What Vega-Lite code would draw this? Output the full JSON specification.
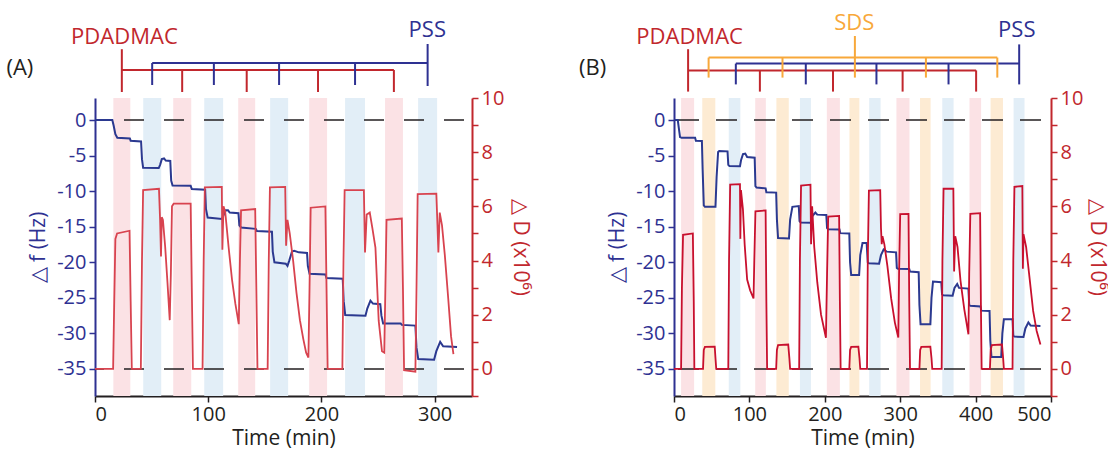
{
  "$schema": "https://vega.github.io/schema/vega-lite/v6.json",
  "background": "white",
  "padding": {"left": 6, "top": 12, "right": 0, "bottom": 0},
  "config": {
    "view": {"stroke": null},
    "font": "Open Sans",
    "axis": {"grid": false, "labelFontSize": 20, "titleFontSize": 21, "titleFontWeight": "normal", "tickSize": 6, "tickWidth": 1.5, "domainWidth": 2, "labelPadding": 3}
  },
  "datasets": {
    "baselines": [{"hz": 0}, {"hz": -35}],
    "bandsA": [
      {"t": 16.2, "t2": 31.2, "solution": "PDADMAC"}, {"t": 69.1, "t2": 85, "solution": "PDADMAC"}, {"t": 126.5, "t2": 141.5, "solution": "PDADMAC"}, {"t": 189.2, "t2": 205, "solution": "PDADMAC"}, {"t": 256.2, "t2": 272, "solution": "PDADMAC"},
      {"t": 42.6, "t2": 58.5, "solution": "PSS"}, {"t": 96.5, "t2": 113.2, "solution": "PSS"}, {"t": 154.7, "t2": 170.6, "solution": "PSS"}, {"t": 220.9, "t2": 238.5, "solution": "PSS"}, {"t": 285.4, "t2": 302.2, "solution": "PSS"}
    ],
    "bandsB": [
      {"t": 9.4, "t2": 26.7, "solution": "PDADMAC"}, {"t": 107.7, "t2": 121.8, "solution": "PDADMAC"}, {"t": 202.7, "t2": 220, "solution": "PDADMAC"}, {"t": 295, "t2": 312.3, "solution": "PDADMAC"}, {"t": 391.9, "t2": 407.3, "solution": "PDADMAC"},
      {"t": 37.5, "t2": 54.8, "solution": "SDS"}, {"t": 135.8, "t2": 152.2, "solution": "SDS"}, {"t": 232.7, "t2": 245.8, "solution": "SDS"}, {"t": 326.3, "t2": 340.3, "solution": "SDS"}, {"t": 419.9, "t2": 436.3, "solution": "SDS"},
      {"t": 72.6, "t2": 88, "solution": "PSS"}, {"t": 167, "t2": 181.6, "solution": "PSS"}, {"t": 258.9, "t2": 274, "solution": "PSS"}, {"t": 355.8, "t2": 370.8, "solution": "PSS"}, {"t": 450.4, "t2": 464.9, "solution": "PSS"}
    ],
    "freqA": [
      {"t": 0, "hz": 0}, {"t": 15.3, "hz": 0}, {"t": 16.5, "hz": -0.8}, {"t": 18, "hz": -2.0}, {"t": 19.7, "hz": -2.5}, {"t": 30.8, "hz": -2.6}, {"t": 31.5, "hz": -2.9}, {"t": 40.7, "hz": -3.0},
      {"t": 41.5, "hz": -5.5}, {"t": 42.5, "hz": -6.7}, {"t": 56.3, "hz": -6.75}, {"t": 57.5, "hz": -6.3}, {"t": 59, "hz": -5.5}, {"t": 61, "hz": -5.4}, {"t": 62.5, "hz": -5.7}, {"t": 66.5, "hz": -5.75},
      {"t": 67.3, "hz": -8.5}, {"t": 68.5, "hz": -9.2}, {"t": 84.5, "hz": -9.25}, {"t": 85.5, "hz": -9.7}, {"t": 97.3, "hz": -9.8}, {"t": 98, "hz": -12.5}, {"t": 99.5, "hz": -13.7}, {"t": 112, "hz": -13.9},
      {"t": 113.5, "hz": -13.4}, {"t": 115.5, "hz": -12.7}, {"t": 117.5, "hz": -12.7}, {"t": 119, "hz": -13.0}, {"t": 126.7, "hz": -13.1}, {"t": 127.5, "hz": -14.8}, {"t": 129, "hz": -15.1}, {"t": 142, "hz": -15.3},
      {"t": 143, "hz": -15.6}, {"t": 156.3, "hz": -15.7}, {"t": 157, "hz": -18.5}, {"t": 158.5, "hz": -20.0}, {"t": 168.5, "hz": -20.2}, {"t": 170, "hz": -20.5}, {"t": 171.5, "hz": -19.8}, {"t": 174, "hz": -18.5},
      {"t": 176, "hz": -18.4}, {"t": 180, "hz": -18.6}, {"t": 187.3, "hz": -18.7}, {"t": 188, "hz": -20.5}, {"t": 189.5, "hz": -21.6}, {"t": 203.5, "hz": -21.7}, {"t": 204.5, "hz": -22.2}, {"t": 218.8, "hz": -22.3},
      {"t": 219.7, "hz": -25.5}, {"t": 221, "hz": -27.4}, {"t": 238.9, "hz": -27.5}, {"t": 240.5, "hz": -26.5}, {"t": 243.3, "hz": -25.4}, {"t": 245.5, "hz": -25.8}, {"t": 252, "hz": -25.9}, {"t": 253, "hz": -27.5},
      {"t": 254.5, "hz": -28.6}, {"t": 270, "hz": -28.6}, {"t": 271, "hz": -28.8}, {"t": 283, "hz": -28.9}, {"t": 284, "hz": -32}, {"t": 285.5, "hz": -33.6}, {"t": 299.5, "hz": -33.7}, {"t": 301.5, "hz": -32.5},
      {"t": 304.9, "hz": -31.2}, {"t": 307.5, "hz": -31.8}, {"t": 319.8, "hz": -31.9}
    ],
    "dissA": [
      {"t": 0, "d": 0}, {"t": 16, "d": 0}, {"t": 17, "d": 2.5}, {"t": 18, "d": 4.8}, {"t": 19.5, "d": 5.0}, {"t": 30.5, "d": 5.1}, {"t": 31.5, "d": 2.5}, {"t": 32.5, "d": 0}, {"t": 40.5, "d": 0},
      {"t": 41.5, "d": 4}, {"t": 42.5, "d": 6.6}, {"t": 56.5, "d": 6.65}, {"t": 57.5, "d": 5.5}, {"t": 58.3, "d": 4.15}, {"t": 59, "d": 5.6}, {"t": 60, "d": 5.5}, {"t": 62, "d": 4.5}, {"t": 64, "d": 3.2},
      {"t": 66, "d": 1.8}, {"t": 67, "d": 3.5}, {"t": 68, "d": 6.0}, {"t": 69.5, "d": 6.1}, {"t": 84.5, "d": 6.1}, {"t": 85.5, "d": 3}, {"t": 86.5, "d": 0}, {"t": 95, "d": 0}, {"t": 96, "d": 4},
      {"t": 97, "d": 6.7}, {"t": 112, "d": 6.72}, {"t": 112.5, "d": 4.4}, {"t": 113.5, "d": 6.0}, {"t": 115, "d": 5.8}, {"t": 118, "d": 4.5}, {"t": 121, "d": 3.3}, {"t": 124, "d": 2.4}, {"t": 127, "d": 1.65},
      {"t": 128, "d": 4}, {"t": 129, "d": 5.85}, {"t": 141.5, "d": 5.9}, {"t": 142.5, "d": 3}, {"t": 143.5, "d": 0}, {"t": 152.5, "d": 0}, {"t": 153.5, "d": 4}, {"t": 154.5, "d": 6.7}, {"t": 168, "d": 6.72},
      {"t": 168.8, "d": 4.55}, {"t": 170, "d": 5.5}, {"t": 172, "d": 5.0}, {"t": 175, "d": 4.0}, {"t": 178, "d": 2.8}, {"t": 181, "d": 1.8}, {"t": 184, "d": 1.1}, {"t": 186.5, "d": 0.6}, {"t": 188.5, "d": 0.42},
      {"t": 189.5, "d": 3}, {"t": 190.5, "d": 5.95}, {"t": 203.5, "d": 6.0}, {"t": 204.5, "d": 3}, {"t": 205.5, "d": 0}, {"t": 218.5, "d": 0}, {"t": 219.5, "d": 4}, {"t": 220.5, "d": 6.6}, {"t": 237.5, "d": 6.6},
      {"t": 238.5, "d": 4.3}, {"t": 240, "d": 5.7}, {"t": 242.7, "d": 5.77}, {"t": 245, "d": 5.2}, {"t": 247.7, "d": 4.48}, {"t": 250.6, "d": 1.77}, {"t": 253.5, "d": 0.65}, {"t": 255.5, "d": 0.6},
      {"t": 256.5, "d": 3}, {"t": 257.5, "d": 5.5}, {"t": 271, "d": 5.55}, {"t": 272, "d": 3}, {"t": 273, "d": -0.05}, {"t": 283, "d": -0.1}, {"t": 284, "d": 3}, {"t": 285, "d": 6.45}, {"t": 301.5, "d": 6.47},
      {"t": 302.5, "d": 5.3}, {"t": 303.3, "d": 4.3}, {"t": 304.5, "d": 5.77}, {"t": 306.5, "d": 5.3}, {"t": 309, "d": 4.2}, {"t": 312, "d": 2.6}, {"t": 314.5, "d": 1.2}, {"t": 316.6, "d": 0.55}
    ],
    "freqB": [
      {"t": 0, "hz": 0}, {"t": 5, "hz": 0}, {"t": 6.5, "hz": -1.2}, {"t": 8, "hz": -2.4}, {"t": 10, "hz": -2.5}, {"t": 28, "hz": -2.5}, {"t": 29, "hz": -2.9}, {"t": 37, "hz": -2.95},
      {"t": 38, "hz": -7}, {"t": 39.5, "hz": -12.0}, {"t": 41, "hz": -12.2}, {"t": 55, "hz": -12.2}, {"t": 56.5, "hz": -8}, {"t": 58.5, "hz": -4.5}, {"t": 60, "hz": -4.35}, {"t": 71, "hz": -4.4},
      {"t": 72, "hz": -6.3}, {"t": 73.5, "hz": -6.45}, {"t": 87.5, "hz": -6.5}, {"t": 89, "hz": -5.6}, {"t": 91.5, "hz": -4.8}, {"t": 94.5, "hz": -4.72}, {"t": 97, "hz": -5.2}, {"t": 107, "hz": -5.3},
      {"t": 108, "hz": -9.3}, {"t": 109.5, "hz": -9.5}, {"t": 121.5, "hz": -9.6}, {"t": 122.5, "hz": -10.15}, {"t": 135.5, "hz": -10.2}, {"t": 136.5, "hz": -14}, {"t": 138, "hz": -16.6}, {"t": 152.5, "hz": -16.65},
      {"t": 154, "hz": -14}, {"t": 157, "hz": -12.2}, {"t": 165.5, "hz": -12.1}, {"t": 166.5, "hz": -14.2}, {"t": 168, "hz": -14.4}, {"t": 181.5, "hz": -14.45}, {"t": 183.5, "hz": -13.5}, {"t": 187.5, "hz": -13.0},
      {"t": 190, "hz": -13.3}, {"t": 202, "hz": -13.35}, {"t": 203, "hz": -15.2}, {"t": 204.5, "hz": -15.35}, {"t": 219.5, "hz": -15.4}, {"t": 220.5, "hz": -15.9}, {"t": 232.5, "hz": -15.95}, {"t": 233.5, "hz": -20},
      {"t": 235, "hz": -21.8}, {"t": 245.5, "hz": -21.8}, {"t": 247, "hz": -19}, {"t": 250, "hz": -17.3}, {"t": 255.5, "hz": -17.3}, {"t": 257, "hz": -20}, {"t": 258.5, "hz": -20.15}, {"t": 272, "hz": -20.2},
      {"t": 274.5, "hz": -19}, {"t": 278, "hz": -18.2}, {"t": 282, "hz": -18.5}, {"t": 294.5, "hz": -18.6}, {"t": 295.5, "hz": -20.8}, {"t": 297, "hz": -20.9}, {"t": 312, "hz": -20.95}, {"t": 313, "hz": -21.3},
      {"t": 324.5, "hz": -21.4}, {"t": 325.5, "hz": -26}, {"t": 327, "hz": -28.7}, {"t": 340, "hz": -28.7}, {"t": 341.5, "hz": -25}, {"t": 343.5, "hz": -22.7}, {"t": 354.5, "hz": -22.8}, {"t": 355.5, "hz": -24.5},
      {"t": 357, "hz": -24.65}, {"t": 369.5, "hz": -24.7}, {"t": 372, "hz": -23.6}, {"t": 375.6, "hz": -23.05}, {"t": 378, "hz": -23.6}, {"t": 390.5, "hz": -23.7}, {"t": 391.5, "hz": -26}, {"t": 393, "hz": -26.1},
      {"t": 406.5, "hz": -26.2}, {"t": 407.5, "hz": -26.8}, {"t": 418.5, "hz": -26.85}, {"t": 419.5, "hz": -31}, {"t": 421, "hz": -33.3}, {"t": 434, "hz": -33.3}, {"t": 435.5, "hz": -30}, {"t": 437.5, "hz": -28},
      {"t": 449, "hz": -28.0}, {"t": 450, "hz": -30.3}, {"t": 451.5, "hz": -30.45}, {"t": 463.5, "hz": -30.5}, {"t": 466, "hz": -29.3}, {"t": 470, "hz": -28.45}, {"t": 473, "hz": -28.9}, {"t": 486, "hz": -28.95}
    ],
    "dissB": [
      {"t": 0, "d": 0}, {"t": 9.4, "d": 0}, {"t": 10.5, "d": 3}, {"t": 12, "d": 4.95}, {"t": 25, "d": 5.0}, {"t": 26.2, "d": 2.5}, {"t": 27, "d": 0}, {"t": 38.5, "d": 0}, {"t": 39.5, "d": 0.7},
      {"t": 41, "d": 0.81}, {"t": 54, "d": 0.82}, {"t": 55, "d": 0.4}, {"t": 56, "d": 0}, {"t": 72, "d": 0}, {"t": 73, "d": 4}, {"t": 74.5, "d": 6.8}, {"t": 87.5, "d": 6.82}, {"t": 88, "d": 4.8},
      {"t": 88.8, "d": 6.6}, {"t": 91.4, "d": 5.9}, {"t": 93.7, "d": 4.6}, {"t": 97, "d": 3.3}, {"t": 101, "d": 2.9}, {"t": 105.5, "d": 2.6}, {"t": 106.5, "d": 4}, {"t": 108, "d": 5.82}, {"t": 121.5, "d": 5.85},
      {"t": 122.5, "d": 2.5}, {"t": 123.5, "d": 0}, {"t": 135.5, "d": 0}, {"t": 136.5, "d": 0.7}, {"t": 138, "d": 0.88}, {"t": 151.5, "d": 0.9}, {"t": 153, "d": 0.4}, {"t": 154, "d": 0}, {"t": 166, "d": 0},
      {"t": 167, "d": 4}, {"t": 168.5, "d": 6.77}, {"t": 181, "d": 6.8}, {"t": 181.8, "d": 4.6}, {"t": 183.2, "d": 6.0}, {"t": 186, "d": 4.5}, {"t": 190, "d": 3.2}, {"t": 195, "d": 2.0}, {"t": 201.5, "d": 1.15},
      {"t": 203, "d": 3.5}, {"t": 204.5, "d": 5.62}, {"t": 219, "d": 5.65}, {"t": 220, "d": 2.5}, {"t": 221, "d": 0}, {"t": 232.5, "d": 0}, {"t": 233.5, "d": 0.7}, {"t": 235, "d": 0.81}, {"t": 244.5, "d": 0.82},
      {"t": 246, "d": 0.4}, {"t": 247, "d": 0}, {"t": 256, "d": 0}, {"t": 257, "d": 4}, {"t": 258.5, "d": 6.58}, {"t": 273.5, "d": 6.6}, {"t": 274.5, "d": 5.2}, {"t": 275.5, "d": 4.6}, {"t": 276.5, "d": 4.9},
      {"t": 279, "d": 4.6}, {"t": 283, "d": 3.8}, {"t": 288, "d": 2.6}, {"t": 293, "d": 1.7}, {"t": 297.5, "d": 1.16}, {"t": 298.5, "d": 3.5}, {"t": 300, "d": 5.71}, {"t": 311, "d": 5.72}, {"t": 312, "d": 2.5},
      {"t": 313, "d": 0}, {"t": 325.5, "d": 0}, {"t": 326.5, "d": 0.7}, {"t": 328, "d": 0.81}, {"t": 340, "d": 0.82}, {"t": 341.5, "d": 0.4}, {"t": 342.5, "d": 0}, {"t": 355, "d": 0}, {"t": 356, "d": 4},
      {"t": 357.5, "d": 6.65}, {"t": 370.5, "d": 6.65}, {"t": 371.5, "d": 3.6}, {"t": 373, "d": 4.9}, {"t": 376, "d": 4.5}, {"t": 380, "d": 3.25}, {"t": 385, "d": 2.2}, {"t": 390.5, "d": 1.28}, {"t": 391.5, "d": 3.5},
      {"t": 393, "d": 5.72}, {"t": 406, "d": 5.75}, {"t": 407, "d": 2.5}, {"t": 408, "d": 0}, {"t": 419, "d": 0}, {"t": 420, "d": 0.7}, {"t": 421.5, "d": 0.88}, {"t": 435, "d": 0.9}, {"t": 436.5, "d": 0.4},
      {"t": 437.5, "d": 0}, {"t": 449, "d": 0}, {"t": 450, "d": 4}, {"t": 451.5, "d": 6.72}, {"t": 462, "d": 6.75}, {"t": 462.7, "d": 3.7}, {"t": 463.5, "d": 4.97}, {"t": 467, "d": 4.5}, {"t": 471, "d": 3.5},
      {"t": 476.3, "d": 2.14}, {"t": 481, "d": 1.4}, {"t": 486, "d": 0.9}
    ],
    "bracketA": [
      {"t": 23.7, "t2": 23.7, "l": 1.5, "l2": 12.2, "solution": "PDADMAC"},
      {"t": 23.7, "t2": 264, "l": 7, "l2": 7, "solution": "PDADMAC"},
      {"t": 77, "t2": 77, "l": 7, "l2": 1.5, "solution": "PDADMAC"},
      {"t": 134, "t2": 134, "l": 7, "l2": 1.5, "solution": "PDADMAC"},
      {"t": 197, "t2": 197, "l": 7, "l2": 1.5, "solution": "PDADMAC"},
      {"t": 264, "t2": 264, "l": 7, "l2": 1.5, "solution": "PDADMAC"},
      {"t": 50.5, "t2": 293.8, "l": 8.75, "l2": 8.75, "solution": "PSS"},
      {"t": 50.5, "t2": 50.5, "l": 8.75, "l2": 3.25, "solution": "PSS"},
      {"t": 105, "t2": 105, "l": 8.75, "l2": 3.25, "solution": "PSS"},
      {"t": 162.6, "t2": 162.6, "l": 8.75, "l2": 3.25, "solution": "PSS"},
      {"t": 229.7, "t2": 229.7, "l": 8.75, "l2": 3.25, "solution": "PSS"},
      {"t": 293.8, "t2": 293.8, "l": 3, "l2": 13.5, "solution": "PSS"}
    ],
    "bracketB": [
      {"t": 18.7, "t2": 18.7, "l": 1.6, "l2": 12.2, "solution": "PDADMAC"},
      {"t": 18.7, "t2": 400.7, "l": 6.9, "l2": 6.9, "solution": "PDADMAC"},
      {"t": 113.9, "t2": 113.9, "l": 6.9, "l2": 1.6, "solution": "PDADMAC"},
      {"t": 210.9, "t2": 210.9, "l": 6.9, "l2": 1.6, "solution": "PDADMAC"},
      {"t": 303.2, "t2": 303.2, "l": 6.9, "l2": 1.6, "solution": "PDADMAC"},
      {"t": 400.7, "t2": 400.7, "l": 6.9, "l2": 1.6, "solution": "PDADMAC"},
      {"t": 82, "t2": 457.8, "l": 8.6, "l2": 8.6, "solution": "PSS"},
      {"t": 82, "t2": 82, "l": 8.6, "l2": 3.4, "solution": "PSS"},
      {"t": 174.8, "t2": 174.8, "l": 8.6, "l2": 3.4, "solution": "PSS"},
      {"t": 268.5, "t2": 268.5, "l": 8.6, "l2": 3.4, "solution": "PSS"},
      {"t": 364.1, "t2": 364.1, "l": 8.6, "l2": 3.4, "solution": "PSS"},
      {"t": 457.8, "t2": 457.8, "l": 3.4, "l2": 13.4, "solution": "PSS"},
      {"t": 45.9, "t2": 428.8, "l": 10.1, "l2": 10.1, "solution": "SDS"},
      {"t": 45.9, "t2": 45.9, "l": 10.1, "l2": 5.1, "solution": "SDS"},
      {"t": 143.9, "t2": 143.9, "l": 10.1, "l2": 5.1, "solution": "SDS"},
      {"t": 239.9, "t2": 239.9, "l": 15.5, "l2": 5.1, "solution": "SDS"},
      {"t": 334.1, "t2": 334.1, "l": 10.1, "l2": 5.1, "solution": "SDS"},
      {"t": 428.8, "t2": 428.8, "l": 10.1, "l2": 5.1, "solution": "SDS"}
    ],
    "labelsA": [
      {"t": 26, "l": 13.5, "label": "PDADMAC", "solution": "PDADMAC"},
      {"t": 293.5, "l": 15.25, "label": "PSS", "solution": "PSS"},
      {"t": -66.4, "l": 5.75, "label": "(A)", "solution": "panel"}
    ],
    "labelsB": [
      {"t": 20.7, "l": 13.5, "label": "PDADMAC", "solution": "PDADMAC"},
      {"t": 239, "l": 16.9, "label": "SDS", "solution": "SDS"},
      {"t": 454.6, "l": 15.25, "label": "PSS", "solution": "PSS"},
      {"t": -108, "l": 5.75, "label": "(B)", "solution": "panel"}
    ]
  },
  "spacing": 47,
  "hconcat": [
    {
      "width": 377,
      "height": 298,
      "resolve": {"scale": {"y": "independent", "color": "independent"}},
      "layer": [
        {
          "data": {"name": "bandsA"},
          "mark": {"type": "rect"},
          "encoding": {
            "x": {"field": "t", "type": "quantitative", "scale": {"domain": [0, 333], "nice": false}, "axis": {"orient": "bottom", "values": [0, 100, 200, 300], "title": "Time (min)", "labelPadding": 2, "titlePadding": 3, "domainColor": "#231f20", "tickColor": "#231f20", "labelColor": "#231f20", "titleColor": "#231f20"}},
            "x2": {"field": "t2"},
            "color": {"field": "solution", "type": "nominal", "scale": {"domain": ["PDADMAC", "PSS", "SDS"], "range": ["#fbe2e5", "#e2eef7", "#fdebd3"]}, "legend": null}
          }
        },
        {
          "layer": [
            {
              "data": {"name": "baselines"},
              "mark": {"type": "rule", "strokeDash": [20, 20], "strokeDashOffset": 32, "color": "#231f20", "strokeWidth": 1.5},
              "encoding": {
                "y": {"field": "hz", "type": "quantitative", "scale": {"domain": [-38.8, 3.1], "nice": false, "zero": false},
                  "axis": {"orient": "left", "values": [-35, -30, -25, -20, -15, -10, -5, 0], "labelExpr": "toString(datum.value)", "title": "△ f (Hz)", "domainColor": "#2e3192", "tickColor": "#2e3192", "labelColor": "#2e3192", "titleColor": "#2e3192", "titlePadding": 8}}
              }
            },
            {
              "mark": {"type": "rule", "color": "#231f20", "strokeWidth": 2},
              "encoding": {"y": {"datum": 3.1}}
            },
            {
              "data": {"name": "freqA"},
              "mark": {"type": "line", "color": "#2b3990", "strokeWidth": 2},
              "encoding": {
                "x": {"field": "t", "type": "quantitative", "scale": {"domain": [0, 333], "nice": false}},
                "y": {"field": "hz", "type": "quantitative"}
              }
            }
          ]
        },
        {
          "data": {"name": "dissA"},
          "mark": {"type": "line", "color": "#d8434f", "strokeWidth": 1.8},
          "encoding": {
            "x": {"field": "t", "type": "quantitative", "scale": {"domain": [0, 333], "nice": false}},
            "y": {"field": "d", "type": "quantitative", "scale": {"domain": [-1, 10], "nice": false, "zero": false},
              "axis": {"orient": "right", "values": [-1, 0, 1, 2, 3, 4, 5, 6, 7, 8, 9, 10], "labelExpr": "datum.value >= 0 && datum.value % 2 === 0 ? toString(datum.value) : ''", "title": "△ D (x10⁶)", "domainColor": "#c1272d", "tickColor": "#c1272d", "labelColor": "#c1272d", "titleColor": "#c1272d", "titlePadding": 6}}
          }
        },
        {
          "data": {"name": "bracketA"},
          "mark": {"type": "rule", "strokeWidth": 2},
          "encoding": {
            "x": {"field": "t", "type": "quantitative", "scale": {"domain": [0, 333], "nice": false}},
            "x2": {"field": "t2"},
            "y": {"field": "l", "type": "quantitative", "scale": {"domain": [-74.5, 0], "nice": false, "zero": false}, "axis": null},
            "y2": {"field": "l2"},
            "color": {"field": "solution", "type": "nominal", "scale": {"domain": ["PDADMAC", "PSS", "SDS", "panel"], "range": ["#c1272d", "#2e3192", "#f8a83a", "#231f20"]}, "legend": null}
          }
        },
        {
          "data": {"name": "labelsA"},
          "mark": {"type": "text", "fontSize": 22, "baseline": "alphabetic", "align": "center"},
          "encoding": {
            "x": {"field": "t", "type": "quantitative", "scale": {"domain": [0, 333], "nice": false}},
            "y": {"field": "l", "type": "quantitative", "scale": {"domain": [-74.5, 0], "nice": false, "zero": false}, "axis": null},
            "text": {"field": "label"},
            "color": {"field": "solution", "type": "nominal", "scale": {"domain": ["PDADMAC", "PSS", "SDS", "panel"], "range": ["#c1272d", "#2e3192", "#f8a83a", "#231f20"]}, "legend": null}
          }
        }
      ]
    },
    {
      "width": 377,
      "height": 298,
      "resolve": {"scale": {"y": "independent", "color": "independent"}},
      "layer": [
        {
          "data": {"name": "bandsB"},
          "mark": {"type": "rect"},
          "encoding": {
            "x": {"field": "t", "type": "quantitative", "scale": {"domain": [0, 500], "nice": false}, "axis": {"orient": "bottom", "values": [0, 100, 200, 300, 400, 500], "title": "Time (min)", "labelPadding": 2, "titlePadding": 3, "domainColor": "#231f20", "tickColor": "#231f20", "labelColor": "#231f20", "titleColor": "#231f20"}},
            "x2": {"field": "t2"},
            "color": {"field": "solution", "type": "nominal", "scale": {"domain": ["PDADMAC", "PSS", "SDS"], "range": ["#fbe2e5", "#e2eef7", "#fdebd3"]}, "legend": null}
          }
        },
        {
          "layer": [
            {
              "data": {"name": "baselines"},
              "mark": {"type": "rule", "strokeDash": [21, 17], "strokeDashOffset": 28, "color": "#231f20", "strokeWidth": 1.5},
              "encoding": {
                "y": {"field": "hz", "type": "quantitative", "scale": {"domain": [-38.8, 3.1], "nice": false, "zero": false},
                  "axis": {"orient": "left", "values": [-35, -30, -25, -20, -15, -10, -5, 0], "labelExpr": "toString(datum.value)", "title": "△ f (Hz)", "domainColor": "#2e3192", "tickColor": "#2e3192", "labelColor": "#2e3192", "titleColor": "#2e3192", "titlePadding": 8}}
              }
            },
            {
              "mark": {"type": "rule", "color": "#231f20", "strokeWidth": 2},
              "encoding": {"y": {"datum": 3.1}}
            },
            {
              "data": {"name": "freqB"},
              "mark": {"type": "line", "color": "#2b3990", "strokeWidth": 2},
              "encoding": {
                "x": {"field": "t", "type": "quantitative", "scale": {"domain": [0, 500], "nice": false}},
                "y": {"field": "hz", "type": "quantitative"}
              }
            }
          ]
        },
        {
          "data": {"name": "dissB"},
          "mark": {"type": "line", "color": "#c8102e", "strokeWidth": 1.8},
          "encoding": {
            "x": {"field": "t", "type": "quantitative", "scale": {"domain": [0, 500], "nice": false}},
            "y": {"field": "d", "type": "quantitative", "scale": {"domain": [-1, 10], "nice": false, "zero": false},
              "axis": {"orient": "right", "values": [-1, 0, 1, 2, 3, 4, 5, 6, 7, 8, 9, 10], "labelExpr": "datum.value >= 0 && datum.value % 2 === 0 ? toString(datum.value) : ''", "title": "△ D (x10⁶)", "domainColor": "#c1272d", "tickColor": "#c1272d", "labelColor": "#c1272d", "titleColor": "#c1272d", "titlePadding": 4}}
          }
        },
        {
          "data": {"name": "bracketB"},
          "mark": {"type": "rule", "strokeWidth": 2},
          "encoding": {
            "x": {"field": "t", "type": "quantitative", "scale": {"domain": [0, 500], "nice": false}},
            "x2": {"field": "t2"},
            "y": {"field": "l", "type": "quantitative", "scale": {"domain": [-74.5, 0], "nice": false, "zero": false}, "axis": null},
            "y2": {"field": "l2"},
            "color": {"field": "solution", "type": "nominal", "scale": {"domain": ["PDADMAC", "PSS", "SDS", "panel"], "range": ["#c1272d", "#2e3192", "#f8a83a", "#231f20"]}, "legend": null}
          }
        },
        {
          "data": {"name": "labelsB"},
          "mark": {"type": "text", "fontSize": 22, "baseline": "alphabetic", "align": "center"},
          "encoding": {
            "x": {"field": "t", "type": "quantitative", "scale": {"domain": [0, 500], "nice": false}},
            "y": {"field": "l", "type": "quantitative", "scale": {"domain": [-74.5, 0], "nice": false, "zero": false}, "axis": null},
            "text": {"field": "label"},
            "color": {"field": "solution", "type": "nominal", "scale": {"domain": ["PDADMAC", "PSS", "SDS", "panel"], "range": ["#c1272d", "#2e3192", "#f8a83a", "#231f20"]}, "legend": null}
          }
        }
      ]
    }
  ]
}
